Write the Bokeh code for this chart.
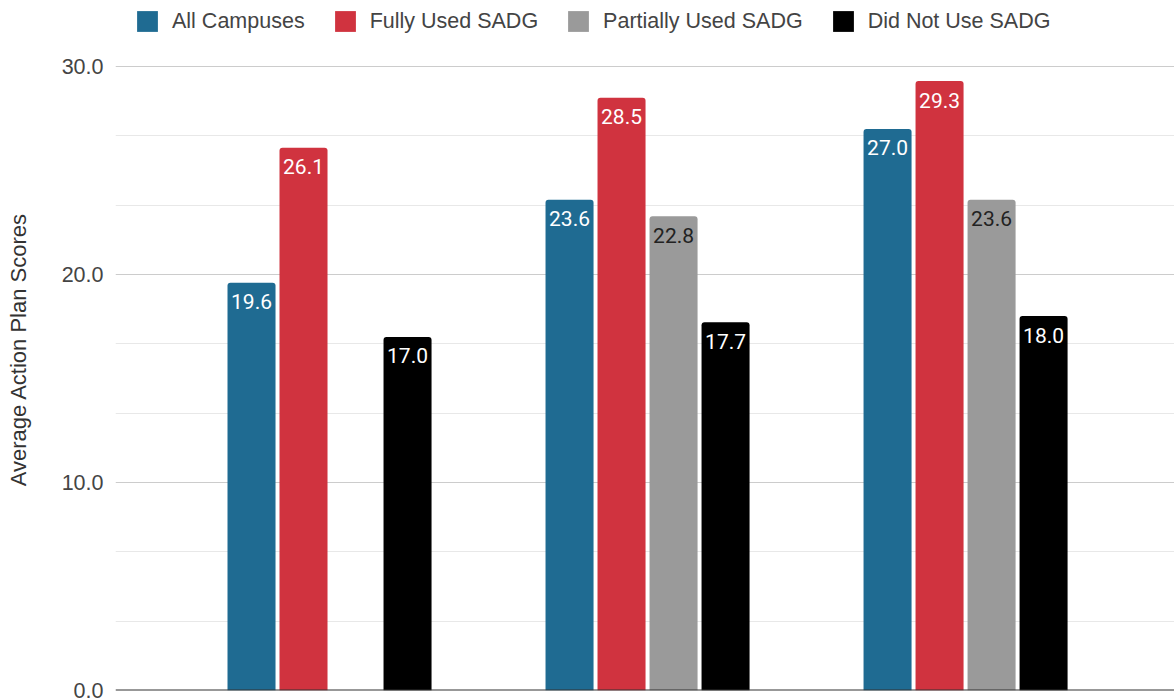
import math
from bokeh.plotting import figure
from bokeh.models import (ColumnDataSource, Range1d, FixedTicker, PrintfTickFormatter,
                          Span, Legend, LegendItem)
from bokeh.transform import dodge
from bokeh.core.properties import value
from bokeh.embed import file_html
from bokeh.resources import INLINE

groups = [1, 2, 3]
series = ["All Campuses", "Fully Used SADG", "Partially Used SADG", "Did Not Use SADG"]
all_campuses = [19.6, 23.6, 27.0]
fully_used = [26.1, 28.5, 29.3]
partially_used = [float("nan"), 22.8, 23.6]
did_not_use = [17.0, 17.7, 18.0]
colors = ["#1f6b92", "#d0333f", "#9a9a9a", "#000000"]
label_colors = ["#ffffff", "#ffffff", "#222222", "#ffffff"]
y_ticks = [0, 10, 20, 30]
y_minor = [10 / 3, 20 / 3, 40 / 3, 50 / 3, 70 / 3, 80 / 3]

values = [all_campuses, fully_used, partially_used, did_not_use]
offsets = [-0.2453, -0.0818, 0.0818, 0.2453]
bar_w = 0.151

p = figure(frame_width=1059, frame_height=682, output_backend="svg", toolbar_location=None,
           x_range=Range1d(0.327, 3.657), y_range=Range1d(0, 32.79),
           x_axis_location=None, min_border_left=115, min_border_right=0,
           min_border_top=8, min_border_bottom=10)
p.outline_line_color = None

items = []
for name, vals, col, off, lc in zip(series, values, colors, offsets, label_colors):
    xs = [g for g, v in zip(groups, vals) if not math.isnan(v)]
    ys = [v for v in vals if not math.isnan(v)]
    src = ColumnDataSource(dict(x=xs, y=ys, lab=[f"{v:.1f}" for v in ys]))
    r = p.vbar(x=dodge("x", off, range=p.x_range), top="y", width=bar_w, source=src,
               fill_color=col, line_color=None, border_radius=[3, 3, 0, 0])
    p.text(x=dodge("x", off, range=p.x_range), y="y", text="lab", source=src,
           text_font=value("Roboto"), text_font_size="21px", text_color=lc,
           text_align="center", text_baseline="middle", y_offset=19)
    items.append(LegendItem(label=name, renderers=[r]))

legend = Legend(items=items, orientation="horizontal", location=(19, 656),
                label_text_font="Liberation Sans", label_text_font_size="21.5px",
                label_text_color="#444444", glyph_width=26, glyph_height=26,
                label_standoff=12, spacing=27, border_line_color=None,
                background_fill_alpha=0, padding=0, margin=0)
p.add_layout(legend)

p.yaxis.ticker = FixedTicker(ticks=y_ticks, minor_ticks=y_minor)
p.yaxis.formatter = PrintfTickFormatter(format="%.1f")
p.yaxis.axis_line_color = None
p.yaxis.major_tick_line_color = None
p.yaxis.minor_tick_line_color = None
p.yaxis.major_tick_out = 0
p.yaxis.major_tick_in = 0
p.yaxis.minor_tick_out = 0
p.yaxis.minor_tick_in = 0
p.yaxis.major_label_text_font = "Liberation Sans"
p.yaxis.major_label_text_font_size = "21.5px"
p.yaxis.major_label_text_color = "#444444"
p.yaxis.major_label_standoff = 12
p.yaxis.axis_label = "Average Action Plan Scores"
p.yaxis.axis_label_text_font = "Liberation Sans"
p.yaxis.axis_label_text_font_size = "22px"
p.yaxis.axis_label_text_font_style = "normal"
p.yaxis.axis_label_text_color = "#333333"
p.yaxis.axis_label_standoff = 28

p.xgrid.grid_line_color = None
p.ygrid.grid_line_color = "#cccccc"
p.ygrid.minor_grid_line_color = "#e8e8e8"

p.add_layout(Span(location=0, dimension="width", line_color="#333333", line_width=2))

open("out.html", "w").write(file_html(p, INLINE))
